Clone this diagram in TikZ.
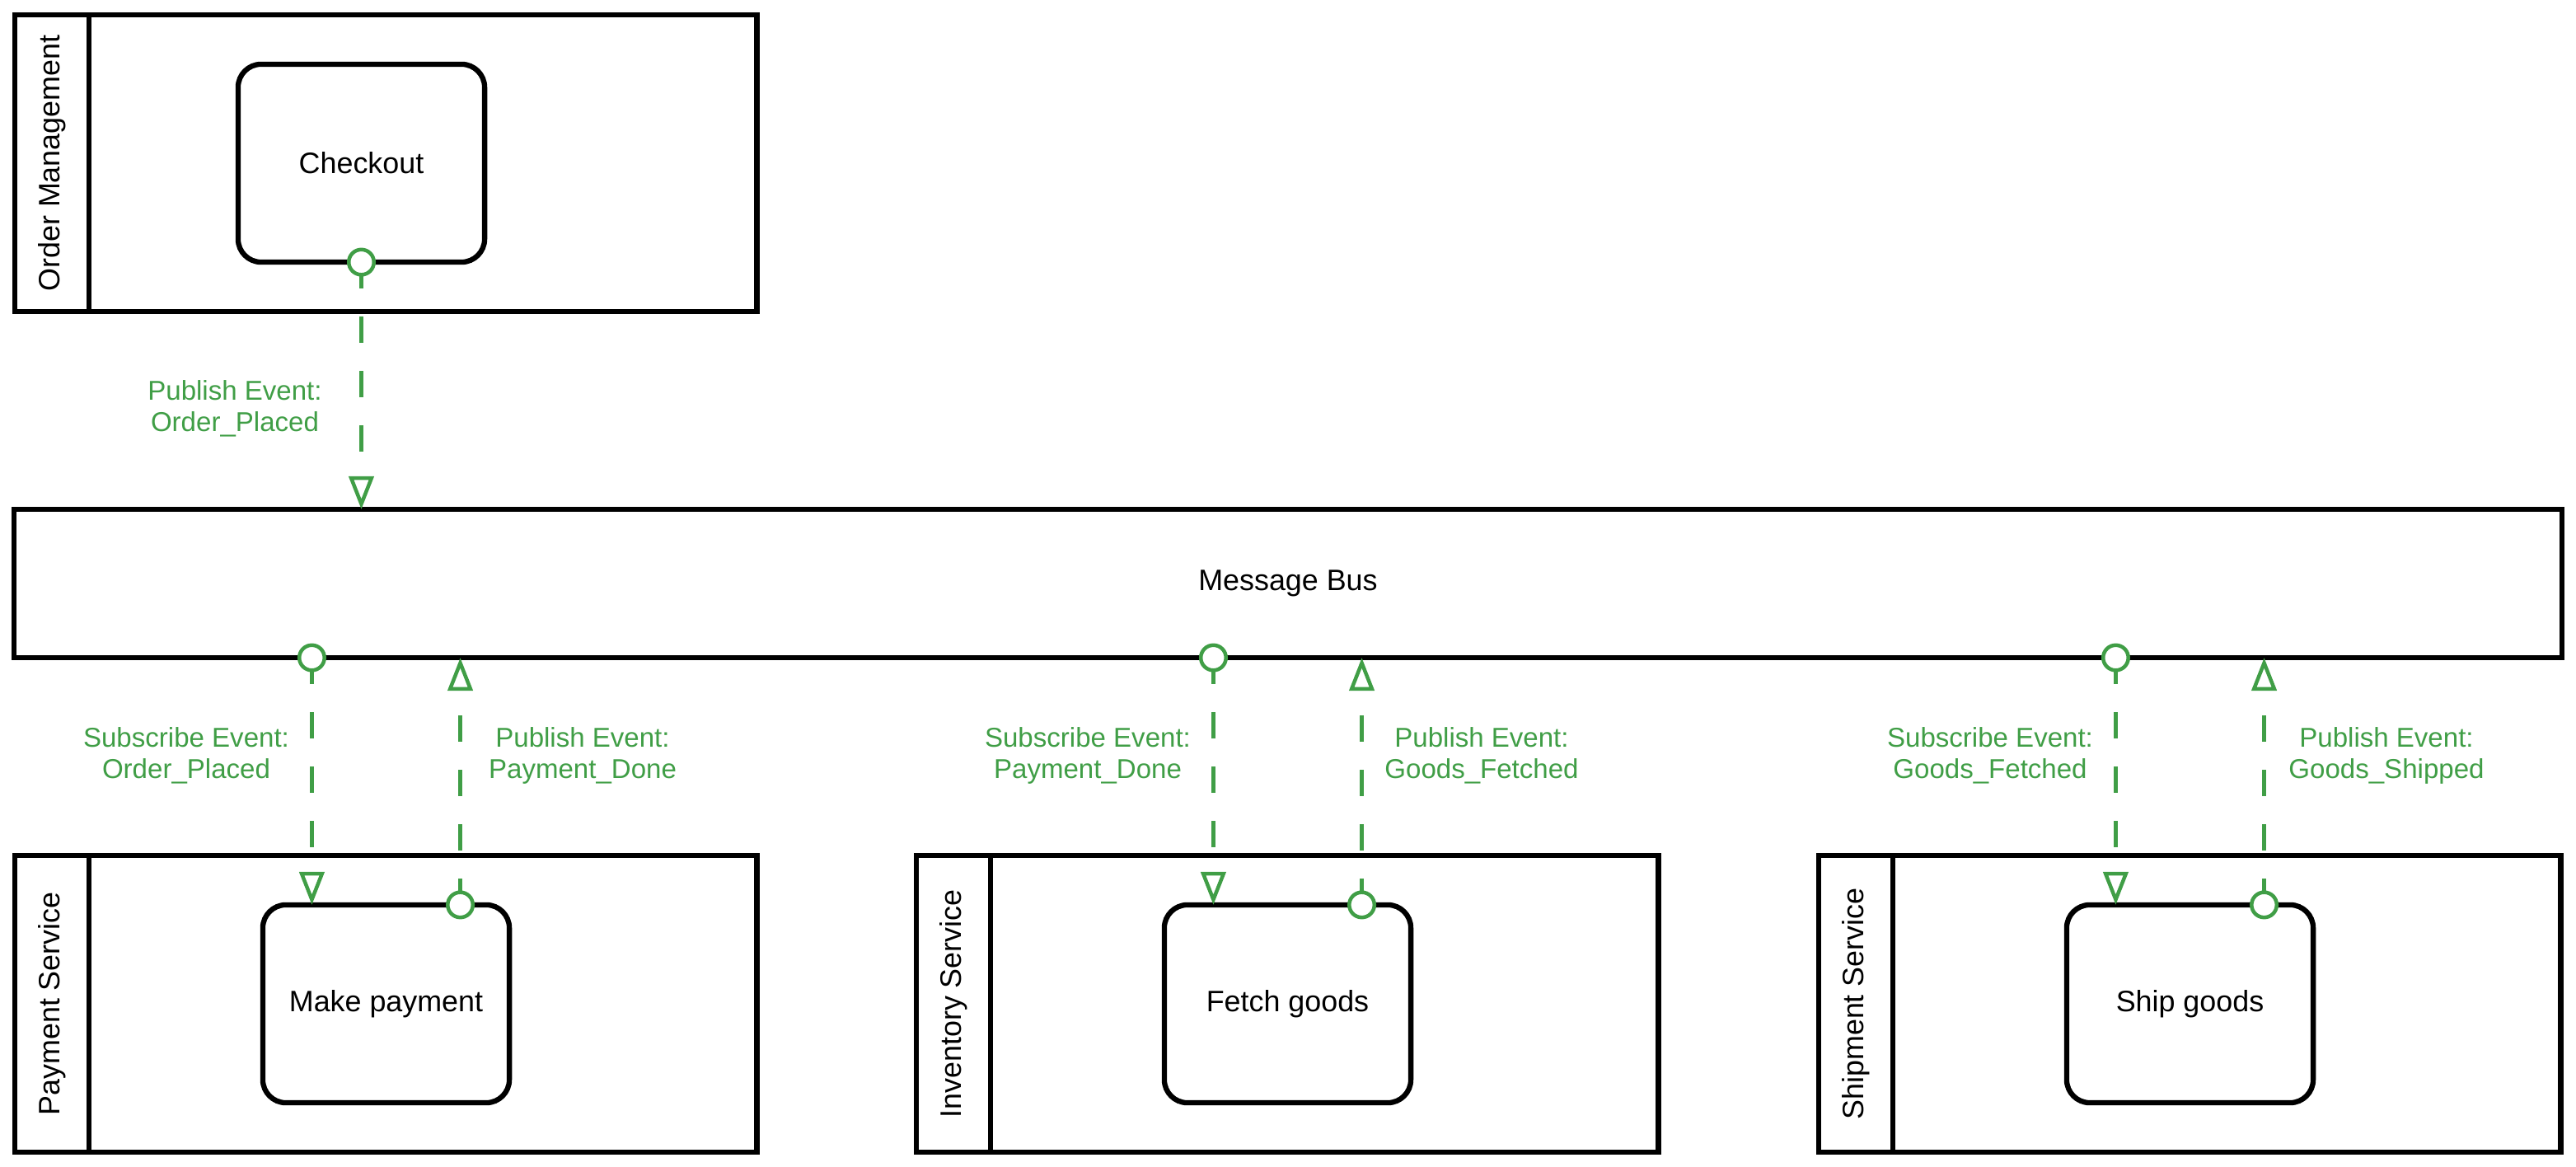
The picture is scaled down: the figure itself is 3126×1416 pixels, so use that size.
\documentclass[tikz,border=0pt]{standalone}
\usepackage{fontspec}
\setmainfont{Liberation Sans}
\usetikzlibrary{arrows.meta,calc}
\definecolor{evgreen}{RGB}{64,158,70}
\begin{document}
\begin{tikzpicture}[x=0.01cm,y=-0.01cm,
  lane/.style={draw=black, line width=1.8pt, minimum width=9.0cm, minimum height=3.6cm, anchor=north west, inner sep=0pt, outer sep=0pt},
  lanebar/.style={draw=black, line width=1.8pt},
  lanetitle/.style={rotate=90, font=\fontsize{10.2}{12}\selectfont, inner sep=0pt},
  task/.style={draw=black, line width=1.8pt, rounded corners=0.28cm, minimum width=2.99cm, minimum height=2.4cm, inner sep=0pt, outer sep=0pt, font=\fontsize{10.2}{12}\selectfont},
  bus/.style={draw=black, line width=1.8pt, minimum width=30.9cm, minimum height=1.8cm, inner sep=0pt, outer sep=0pt, font=\fontsize{10.2}{12}\selectfont},
  port/.style={circle, draw=evgreen, fill=white, line width=1.28pt, minimum size=0.305cm, inner sep=0pt, outer sep=0pt},
  flow/.style={draw=evgreen, line width=1.28pt, dash pattern=on 3.2mm off 3.4mm, -{Triangle[open,length=4mm,width=3mm]}},
  evlabel/.style={text=evgreen, align=center, inner sep=0pt, font=\fontsize{9.4}{10.9}\selectfont}
]
\useasboundingbox (0,0) rectangle (3126,1416);

% ---- Order Management lane ----
\node[lane] (om) at (18,18) {};
\draw[lanebar] ([xshift=0.9cm]om.north west) -- ([xshift=0.9cm]om.south west);
\node[lanetitle] (omt) at (63,198) {Order Management};
\node[task] (checkout) at (438.5,198) {Checkout};

% ---- Message bus ----
\node[bus] (bus) at (1563,708) {Message Bus};

% ---- Service lanes ----
\node[lane] (pl) at (18,1038) {};
\draw[lanebar] ([xshift=0.9cm]pl.north west) -- ([xshift=0.9cm]pl.south west);
\node[lanetitle] (plt) at (63,1218) {Payment Service};
\node[task] (pay) at (468.5,1218) {Make payment};

\node[lane] (il) at (1112,1038) {};
\draw[lanebar] ([xshift=0.9cm]il.north west) -- ([xshift=0.9cm]il.south west);
\node[lanetitle] (ilt) at (1157,1218) {Inventory Service};
\node[task] (fetch) at (1562.5,1218) {Fetch goods};

\node[lane] (sl) at (2207,1038) {};
\draw[lanebar] ([xshift=0.9cm]sl.north west) -- ([xshift=0.9cm]sl.south west);
\node[lanetitle] (slt) at (2252,1218) {Shipment Service};
\node[task] (ship) at (2657.5,1218) {Ship goods};

% ---- port coordinates ----
\coordinate (c0) at (checkout.south);
\coordinate (s1) at ([xshift=-0.9cm]pay.north |- bus.south);
\coordinate (p1) at ([xshift=0.9cm]pay.north);
\coordinate (s2) at ([xshift=-0.9cm]fetch.north |- bus.south);
\coordinate (p2) at ([xshift=0.9cm]fetch.north);
\coordinate (s3) at ([xshift=-0.9cm]ship.north |- bus.south);
\coordinate (p3) at ([xshift=0.9cm]ship.north);

\coordinate (t0) at (c0 |- bus.north);
\coordinate (t1) at (s1 |- pay.north);
\coordinate (u1) at (p1 |- bus.south);
\coordinate (t2) at (s2 |- fetch.north);
\coordinate (u2) at (p2 |- bus.south);
\coordinate (t3) at (s3 |- ship.north);
\coordinate (u3) at (p3 |- bus.south);

% ---- connectors ----
\draw[flow] (c0) -- (t0);
\draw[flow] (s1) -- (t1);
\draw[flow] (p1) -- (u1);
\draw[flow] (s2) -- (t2);
\draw[flow] (p2) -- (u2);
\draw[flow] (s3) -- (t3);
\draw[flow] (p3) -- (u3);

% ---- ports ----
\node[port] (pc0) at (c0) {};
\node[port] (ps1) at (s1) {};
\node[port] (pp1) at (p1) {};
\node[port] (ps2) at (s2) {};
\node[port] (pp2) at (p2) {};
\node[port] (ps3) at (s3) {};
\node[port] (pp3) at (p3) {};

% ---- labels ----
\node[evlabel] (l0) at (285,496) {Publish Event:\\Order\_Placed};
\node[evlabel] (l1) at (226,917) {Subscribe Event:\\Order\_Placed};
\node[evlabel] (l2) at (707,917) {Publish Event:\\Payment\_Done};
\node[evlabel] (l3) at (1320,917) {Subscribe Event:\\Payment\_Done};
\node[evlabel] (l4) at (1798,917) {Publish Event:\\Goods\_Fetched};
\node[evlabel] (l5) at (2415,917) {Subscribe Event:\\Goods\_Fetched};
\node[evlabel] (l6) at (2896,917) {Publish Event:\\Goods\_Shipped};
\end{tikzpicture}
\end{document}
